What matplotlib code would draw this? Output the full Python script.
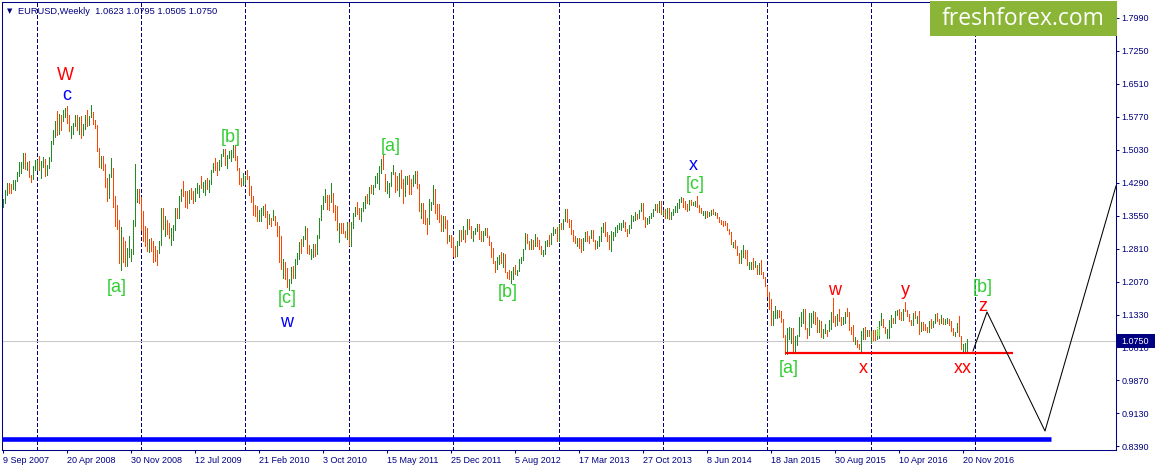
import numpy as np
import matplotlib.pyplot as plt
from matplotlib.patches import Rectangle

# Weekly EURUSD bars, Sep 2007 .. Dec 2016 (one value per week)
highs = [
    # 2007
    1.393, 1.414, 1.428, 1.428, 1.426, 1.435, 1.436, 1.453, 1.475, 1.475, 1.497, 1.497, 1.475, 1.478, 1.446, 1.468, 1.480,
    # 2008
    1.481, 1.489, 1.478, 1.487, 1.483, 1.470, 1.488, 1.524, 1.547, 1.568, 1.590, 1.584, 1.581,
    1.592, 1.598, 1.602, 1.582, 1.556, 1.563, 1.582, 1.582, 1.577, 1.579, 1.561, 1.581, 1.592,
    1.580, 1.604, 1.589, 1.570, 1.558, 1.507, 1.490, 1.490, 1.472, 1.440, 1.450, 1.486, 1.463,
    1.400, 1.380, 1.345, 1.330, 1.308, 1.298, 1.284, 1.310, 1.282, 1.346, 1.472, 1.416, 1.415,
    # 2009
    1.397, 1.367, 1.333, 1.327, 1.303, 1.306, 1.299, 1.288, 1.278, 1.298, 1.374, 1.374, 1.356,
    1.346, 1.340, 1.329, 1.335, 1.374, 1.374, 1.400, 1.416, 1.434, 1.411, 1.411, 1.414, 1.418,
    1.411, 1.418, 1.429, 1.425, 1.445, 1.431, 1.435, 1.440, 1.435, 1.458, 1.474, 1.484, 1.475,
    1.480, 1.494, 1.506, 1.506, 1.492, 1.501, 1.503, 1.514, 1.514, 1.489, 1.463, 1.441, 1.451,
    # 2010
    1.445, 1.458, 1.445, 1.422, 1.400, 1.379, 1.378, 1.369, 1.374, 1.378, 1.382, 1.366, 1.359,
    1.351, 1.369, 1.355, 1.341, 1.333, 1.310, 1.258, 1.252, 1.239, 1.214, 1.240, 1.242, 1.259,
    1.271, 1.297, 1.303, 1.310, 1.333, 1.329, 1.290, 1.281, 1.293, 1.292, 1.313, 1.350, 1.380,
    1.399, 1.416, 1.403, 1.402, 1.428, 1.406, 1.379, 1.378, 1.340, 1.339, 1.340, 1.322, 1.341,
    # 2011
    1.341, 1.341, 1.362, 1.376, 1.386, 1.373, 1.374, 1.386, 1.400, 1.404, 1.419, 1.425, 1.425,
    1.444, 1.452, 1.466, 1.483, 1.494, 1.449, 1.433, 1.430, 1.454, 1.470, 1.453, 1.445, 1.452,
    1.458, 1.437, 1.445, 1.444, 1.446, 1.439, 1.448, 1.455, 1.455, 1.426, 1.385, 1.384, 1.369,
    1.350, 1.392, 1.387, 1.425, 1.416, 1.382, 1.381, 1.357, 1.355, 1.355, 1.345, 1.313, 1.312,
    # 2012
    1.308, 1.287, 1.300, 1.324, 1.324, 1.332, 1.324, 1.348, 1.349, 1.333, 1.321, 1.329, 1.338,
    1.338, 1.321, 1.322, 1.327, 1.328, 1.311, 1.297, 1.283, 1.255, 1.263, 1.267, 1.274, 1.271,
    1.269, 1.230, 1.233, 1.232, 1.240, 1.244, 1.234, 1.259, 1.264, 1.281, 1.317, 1.315, 1.300,
    1.304, 1.302, 1.314, 1.308, 1.301, 1.287, 1.278, 1.299, 1.301, 1.313, 1.316, 1.331, 1.326, 1.330,
    # 2013
    1.338, 1.340, 1.348, 1.371, 1.371, 1.348, 1.345, 1.324, 1.311, 1.306, 1.305, 1.304, 1.306,
    1.320, 1.321, 1.310, 1.324, 1.324, 1.302, 1.300, 1.310, 1.331, 1.339, 1.342, 1.318, 1.312,
    1.321, 1.318, 1.330, 1.335, 1.340, 1.339, 1.345, 1.342, 1.325, 1.334, 1.357, 1.356, 1.363,
    1.360, 1.369, 1.383, 1.383, 1.353, 1.350, 1.355, 1.362, 1.371, 1.381, 1.381, 1.389, 1.389,
    # 2014
    1.369, 1.370, 1.374, 1.374, 1.363, 1.371, 1.377, 1.383, 1.392, 1.397, 1.395, 1.388, 1.381,
    1.390, 1.390, 1.386, 1.388, 1.399, 1.379, 1.373, 1.367, 1.367, 1.367, 1.364, 1.368, 1.370,
    1.365, 1.361, 1.353, 1.345, 1.344, 1.344, 1.340, 1.325, 1.318, 1.296, 1.301, 1.288, 1.271,
    1.279, 1.289, 1.278, 1.279, 1.252, 1.251, 1.260, 1.253, 1.246, 1.250, 1.257, 1.229, 1.219,
    # 2015
    1.197, 1.185, 1.168, 1.142, 1.153, 1.145, 1.145, 1.143, 1.123, 1.088, 1.104, 1.105, 1.104,
    1.103, 1.085, 1.088, 1.129, 1.139, 1.146, 1.147, 1.104, 1.138, 1.138, 1.143, 1.140, 1.128,
    1.121, 1.119, 1.101, 1.113, 1.100, 1.121, 1.139, 1.171, 1.130, 1.136, 1.146, 1.129, 1.128,
    1.139, 1.149, 1.139, 1.106, 1.110, 1.083, 1.077, 1.069, 1.098, 1.104, 1.106, 1.099, 1.099,
    # 2016
    1.096, 1.099, 1.099, 1.096, 1.120, 1.138, 1.125, 1.107, 1.102, 1.122, 1.134, 1.127, 1.142,
    1.145, 1.146, 1.139, 1.146, 1.162, 1.145, 1.135, 1.122, 1.137, 1.142, 1.130, 1.142, 1.118,
    1.118, 1.112, 1.107, 1.120, 1.123, 1.120, 1.136, 1.137, 1.124, 1.133, 1.127, 1.124, 1.126,
    1.124, 1.120, 1.103, 1.095, 1.114, 1.130, 1.086, 1.069, 1.071, 1.0795,
]

lows = [
    # 2007
    1.375, 1.385, 1.401, 1.406, 1.406, 1.416, 1.413, 1.433, 1.445, 1.452, 1.463, 1.460, 1.457, 1.443, 1.432, 1.438, 1.458,
    # 2008
    1.459, 1.459, 1.440, 1.464, 1.445, 1.448, 1.462, 1.479, 1.516, 1.533, 1.536, 1.538, 1.548,
    1.568, 1.576, 1.564, 1.545, 1.529, 1.538, 1.556, 1.548, 1.539, 1.530, 1.537, 1.551, 1.556,
    1.560, 1.578, 1.562, 1.552, 1.500, 1.465, 1.463, 1.458, 1.419, 1.388, 1.396, 1.442, 1.376,
    1.333, 1.326, 1.250, 1.233, 1.252, 1.242, 1.242, 1.264, 1.254, 1.270, 1.332, 1.387, 1.384,
    # 2009
    1.324, 1.298, 1.288, 1.276, 1.274, 1.276, 1.251, 1.253, 1.246, 1.272, 1.290, 1.325, 1.311,
    1.315, 1.306, 1.289, 1.302, 1.324, 1.350, 1.351, 1.388, 1.399, 1.376, 1.374, 1.385, 1.393,
    1.383, 1.389, 1.407, 1.398, 1.417, 1.408, 1.402, 1.416, 1.408, 1.427, 1.454, 1.459, 1.448,
    1.458, 1.468, 1.489, 1.469, 1.463, 1.484, 1.478, 1.487, 1.481, 1.458, 1.427, 1.422, 1.425,
    # 2010
    1.426, 1.438, 1.403, 1.386, 1.358, 1.356, 1.344, 1.344, 1.343, 1.358, 1.353, 1.327, 1.338,
    1.332, 1.345, 1.334, 1.311, 1.252, 1.235, 1.215, 1.214, 1.195, 1.188, 1.205, 1.215, 1.215,
    1.248, 1.258, 1.272, 1.287, 1.304, 1.273, 1.270, 1.259, 1.264, 1.266, 1.269, 1.305, 1.345,
    1.370, 1.387, 1.370, 1.368, 1.386, 1.364, 1.345, 1.323, 1.297, 1.317, 1.317, 1.307, 1.304,
    # 2011
    1.291, 1.287, 1.329, 1.356, 1.359, 1.348, 1.344, 1.366, 1.372, 1.383, 1.382, 1.407, 1.404,
    1.419, 1.430, 1.416, 1.452, 1.460, 1.411, 1.406, 1.397, 1.422, 1.450, 1.408, 1.413, 1.400,
    1.418, 1.384, 1.400, 1.427, 1.405, 1.405, 1.422, 1.430, 1.418, 1.366, 1.350, 1.339, 1.336,
    1.315, 1.337, 1.368, 1.382, 1.361, 1.349, 1.342, 1.321, 1.322, 1.329, 1.295, 1.299, 1.286,
    # 2012
    1.266, 1.262, 1.265, 1.291, 1.298, 1.303, 1.297, 1.315, 1.326, 1.305, 1.300, 1.314, 1.321,
    1.304, 1.299, 1.300, 1.312, 1.308, 1.291, 1.264, 1.250, 1.229, 1.236, 1.248, 1.249, 1.240,
    1.229, 1.216, 1.214, 1.204, 1.213, 1.224, 1.223, 1.231, 1.249, 1.256, 1.280, 1.294, 1.280,
    1.280, 1.280, 1.287, 1.288, 1.280, 1.269, 1.266, 1.270, 1.288, 1.288, 1.292, 1.312, 1.316, 1.300,
    # 2013
    1.299, 1.326, 1.326, 1.344, 1.341, 1.331, 1.314, 1.299, 1.295, 1.288, 1.284, 1.275, 1.279,
    1.300, 1.299, 1.295, 1.306, 1.299, 1.280, 1.284, 1.287, 1.298, 1.319, 1.311, 1.299, 1.281,
    1.276, 1.301, 1.309, 1.318, 1.325, 1.323, 1.331, 1.321, 1.310, 1.316, 1.328, 1.344, 1.345,
    1.348, 1.350, 1.366, 1.348, 1.330, 1.337, 1.340, 1.350, 1.354, 1.369, 1.363, 1.365, 1.359,
    # 2014
    1.357, 1.351, 1.351, 1.348, 1.348, 1.358, 1.364, 1.364, 1.373, 1.386, 1.375, 1.370, 1.367,
    1.368, 1.380, 1.379, 1.378, 1.375, 1.365, 1.362, 1.358, 1.350, 1.352, 1.354, 1.358, 1.359,
    1.357, 1.351, 1.342, 1.336, 1.333, 1.335, 1.324, 1.314, 1.292, 1.286, 1.283, 1.268, 1.250,
    1.250, 1.262, 1.261, 1.244, 1.236, 1.236, 1.236, 1.241, 1.225, 1.224, 1.225, 1.216, 1.199,
    # 2015
    1.175, 1.146, 1.110, 1.110, 1.126, 1.126, 1.128, 1.118, 1.084, 1.046, 1.046, 1.080, 1.071,
    1.052, 1.051, 1.066, 1.085, 1.109, 1.114, 1.101, 1.082, 1.089, 1.107, 1.116, 1.113, 1.095,
    1.094, 1.083, 1.081, 1.093, 1.085, 1.096, 1.102, 1.118, 1.108, 1.111, 1.120, 1.110, 1.112,
    1.115, 1.131, 1.100, 1.090, 1.074, 1.068, 1.062, 1.056, 1.052, 1.080, 1.080, 1.085, 1.085,
    # 2016
    1.071, 1.078, 1.077, 1.080, 1.081, 1.111, 1.107, 1.092, 1.081, 1.082, 1.105, 1.114, 1.114,
    1.133, 1.124, 1.122, 1.121, 1.141, 1.131, 1.119, 1.110, 1.110, 1.126, 1.114, 1.091, 1.097,
    1.100, 1.099, 1.095, 1.095, 1.104, 1.105, 1.115, 1.119, 1.112, 1.115, 1.112, 1.113, 1.115,
    1.111, 1.096, 1.088, 1.086, 1.095, 1.085, 1.057, 1.052, 1.053, 1.0505,
]

closes = [
    # 2007
    1.388, 1.406, 1.426, 1.423, 1.418, 1.431, 1.435, 1.452, 1.465, 1.467, 1.481, 1.463, 1.465, 1.444, 1.439, 1.464, 1.475,
    # 2008
    1.477, 1.467, 1.468, 1.483, 1.450, 1.464, 1.482, 1.518, 1.536, 1.566, 1.544, 1.578, 1.576,
    1.581, 1.592, 1.569, 1.547, 1.550, 1.552, 1.577, 1.556, 1.577, 1.542, 1.559, 1.580, 1.561,
    1.580, 1.587, 1.570, 1.555, 1.500, 1.468, 1.476, 1.467, 1.426, 1.421, 1.448, 1.457, 1.380,
    1.363, 1.341, 1.265, 1.273, 1.272, 1.257, 1.259, 1.270, 1.271, 1.334, 1.387, 1.406, 1.397,
    # 2009
    1.342, 1.322, 1.301, 1.280, 1.297, 1.288, 1.284, 1.268, 1.266, 1.294, 1.360, 1.327, 1.346,
    1.322, 1.305, 1.325, 1.326, 1.368, 1.352, 1.399, 1.415, 1.404, 1.403, 1.394, 1.410, 1.399,
    1.395, 1.416, 1.420, 1.424, 1.418, 1.420, 1.433, 1.430, 1.431, 1.457, 1.472, 1.468, 1.458,
    1.472, 1.494, 1.501, 1.472, 1.485, 1.490, 1.493, 1.500, 1.485, 1.462, 1.434, 1.433, 1.433,
    # 2010
    1.441, 1.439, 1.414, 1.386, 1.363, 1.362, 1.361, 1.362, 1.363, 1.377, 1.353, 1.343, 1.358,
    1.342, 1.350, 1.338, 1.328, 1.275, 1.235, 1.257, 1.227, 1.197, 1.211, 1.237, 1.224, 1.256,
    1.264, 1.294, 1.290, 1.306, 1.328, 1.276, 1.271, 1.274, 1.290, 1.274, 1.305, 1.349, 1.379,
    1.386, 1.398, 1.396, 1.394, 1.403, 1.369, 1.368, 1.324, 1.340, 1.329, 1.318, 1.311, 1.336,
    # 2011
    1.291, 1.337, 1.361, 1.362, 1.359, 1.356, 1.370, 1.375, 1.399, 1.391, 1.418, 1.409, 1.423,
    1.442, 1.443, 1.456, 1.481, 1.460, 1.412, 1.414, 1.426, 1.451, 1.457, 1.428, 1.421, 1.450,
    1.424, 1.415, 1.437, 1.439, 1.426, 1.424, 1.439, 1.449, 1.423, 1.366, 1.380, 1.350, 1.339,
    1.337, 1.386, 1.388, 1.416, 1.377, 1.375, 1.352, 1.324, 1.345, 1.338, 1.304, 1.305, 1.294,
    # 2012
    1.272, 1.268, 1.294, 1.321, 1.316, 1.319, 1.316, 1.345, 1.336, 1.313, 1.319, 1.328, 1.334,
    1.310, 1.308, 1.321, 1.323, 1.308, 1.293, 1.278, 1.252, 1.237, 1.262, 1.263, 1.252, 1.266,
    1.229, 1.222, 1.215, 1.231, 1.239, 1.229, 1.233, 1.252, 1.257, 1.281, 1.312, 1.297, 1.286,
    1.304, 1.295, 1.296, 1.294, 1.281, 1.271, 1.274, 1.298, 1.299, 1.292, 1.316, 1.319, 1.322, 1.307,
    # 2013
    1.336, 1.332, 1.346, 1.363, 1.337, 1.336, 1.319, 1.302, 1.300, 1.308, 1.299, 1.282, 1.300,
    1.311, 1.304, 1.303, 1.311, 1.299, 1.284, 1.293, 1.299, 1.323, 1.335, 1.312, 1.301, 1.283,
    1.307, 1.314, 1.328, 1.328, 1.334, 1.334, 1.338, 1.322, 1.317, 1.330, 1.352, 1.352, 1.356,
    1.355, 1.368, 1.380, 1.349, 1.336, 1.350, 1.356, 1.360, 1.371, 1.374, 1.367, 1.380, 1.359,
    # 2014
    1.367, 1.354, 1.368, 1.349, 1.363, 1.370, 1.374, 1.380, 1.391, 1.391, 1.379, 1.375, 1.370,
    1.389, 1.381, 1.383, 1.387, 1.376, 1.370, 1.363, 1.363, 1.364, 1.354, 1.360, 1.365, 1.360,
    1.361, 1.352, 1.343, 1.342, 1.341, 1.340, 1.324, 1.313, 1.295, 1.296, 1.283, 1.269, 1.252,
    1.276, 1.276, 1.267, 1.245, 1.245, 1.252, 1.239, 1.245, 1.229, 1.246, 1.226, 1.219, 1.200,
    # 2015
    1.184, 1.157, 1.120, 1.129, 1.132, 1.139, 1.138, 1.120, 1.085, 1.050, 1.082, 1.088, 1.097,
    1.060, 1.080, 1.087, 1.120, 1.120, 1.145, 1.101, 1.095, 1.111, 1.126, 1.135, 1.116, 1.110,
    1.116, 1.083, 1.098, 1.098, 1.097, 1.111, 1.138, 1.118, 1.115, 1.133, 1.130, 1.120, 1.121,
    1.136, 1.135, 1.102, 1.100, 1.074, 1.077, 1.065, 1.059, 1.088, 1.099, 1.087, 1.097, 1.086,
    # 2016
    1.093, 1.091, 1.080, 1.083, 1.116, 1.125, 1.113, 1.093, 1.100, 1.115, 1.127, 1.117, 1.139,
    1.140, 1.128, 1.123, 1.145, 1.140, 1.131, 1.121, 1.111, 1.136, 1.125, 1.128, 1.112, 1.113,
    1.105, 1.104, 1.098, 1.117, 1.109, 1.116, 1.133, 1.120, 1.115, 1.123, 1.115, 1.123, 1.124,
    1.120, 1.097, 1.088, 1.097, 1.114, 1.086, 1.058, 1.059, 1.062, 1.075,
]
first_open = 1.376

x_labels = ["9 Sep 2007", "20 Apr 2008", "30 Nov 2008", "12 Jul 2009", "21 Feb 2010",
            "3 Oct 2010", "15 May 2011", "25 Dec 2011", "5 Aug 2012", "17 Mar 2013",
            "27 Oct 2013", "8 Jun 2014", "18 Jan 2015", "30 Aug 2015", "10 Apr 2016",
            "20 Nov 2016"]
y_labels = ["0.8390", "0.9130", "0.9870", "1.0610", "1.1330", "1.2070", "1.2810",
            "1.3550", "1.4290", "1.5030", "1.5770", "1.6510", "1.7250", "1.7990"]
year_starts = [17, 69, 121, 173, 225, 278, 330, 382, 434, 486]

# wave labels: text, bar index, price, colour
waves = [
    ("W", 31, 1.671, "#ff0000"), ("c", 32, 1.626, "#0000ff"),
    ("[a]", 57, 1.1935, "#32cd32"), ("[b]", 114, 1.532, "#32cd32"),
    ("[c]", 142, 1.171, "#32cd32"), ("w", 142, 1.117, "#0000ff"),
    ("[a]", 194, 1.510, "#32cd32"), ("[b]", 252.5, 1.1845, "#32cd32"),
    ("x", 345, 1.469, "#0000ff"), ("[c]", 346, 1.4245, "#32cd32"),
    ("[a]", 393, 1.014, "#32cd32"), ("w", 416, 1.189, "#ff0000"),
    ("x", 430, 1.014, "#ff0000"), ("y", 451, 1.189, "#ff0000"),
    ("xx", 480, 1.012, "#ff0000"), ("[b]", 490, 1.1935, "#32cd32"),
    ("z", 490, 1.153, "#ff0000"),
]
# forecast path drawn on the chart
path_x = [485, 492, 521, 556.5]
path_y = [1.0522, 1.1397, 0.8728, 1.4222]
support = 1.0477
base_line = 0.8548
last_price = 1.0750

plt.rcParams['font.family'] = ['Liberation Sans', 'DejaVu Sans']
navy = '#000080'
W, H = 1156, 471

fig = plt.figure(figsize=(W / 100, H / 100), dpi=100)
ax = fig.add_axes([2.3 / W, 1 - 450 / H, (1116 - 2.3) / W, (450 - 2.3) / H])

n = len(highs)
x = np.arange(n)
opens = [first_open] + closes[:-1]
cols = ['#228b22' if c >= o else '#ff4500' for o, c in zip(opens, closes)]

for xs in year_starts:
    ax.axvline(xs, color=navy, lw=0.6, ls=(0, (4.2, 3.0)), antialiased=False, zorder=1)
ax.axhline(last_price, color='#c8c8c8', lw=0.75, zorder=1)
ax.vlines(x, lows, highs, colors=cols, lw=0.55, antialiased=False, zorder=2)
ax.plot([-0.4, 524], [base_line, base_line], color='#0000ff', lw=3.3, solid_capstyle='butt', zorder=3)
ax.plot([391, 505], [support, support], color='#ff0000', lw=1.6, solid_capstyle='butt', zorder=3)
ax.plot(path_x, path_y, color='black', lw=0.75, zorder=3)

for txt, bx, py, c in waves:
    ax.text(bx, py, txt, color=c, fontsize=13, ha='center', va='center', zorder=4)
ax.text(437.5, 1.0926, "ii", color='#66dd33', fontsize=9, ha='center', va='center', zorder=4)

ax.set_xlim(-0.35, 556.5)
ax.set_ylim(0.8302, 1.8342)

ax.yaxis.tick_right()
ax.set_yticks([float(s) for s in y_labels])
ax.set_yticklabels(y_labels)
ax.set_xticks(np.arange(len(x_labels)) * 32)
ax.set_xticklabels(x_labels, ha='left')
ax.tick_params(axis='y', length=2.5, width=0.75, color=navy, labelcolor=navy, labelsize=6.5, pad=1.5)
ax.tick_params(axis='x', length=2.5, width=0.75, color=navy, labelcolor=navy, labelsize=6.5, pad=1.5)
for sp in ax.spines.values():
    sp.set_color(navy)
    sp.set_linewidth(0.75)

# header
fig.text(7 / W, 1 - 11 / H, "\u25bc", family='DejaVu Sans', fontsize=5, color=navy, va='center')
fig.text(18 / W, 1 - 11 / H, "EURUSD,Weekly  1.0623 1.0795 1.0505 1.0750",
         fontsize=6.7, color=navy, va='center')

# logo
fig.add_artist(Rectangle((930 / W, 1 - 36 / H), 187 / W, 35 / H, transform=fig.transFigure,
                         facecolor='#8ab536', edgecolor='none', zorder=5))
fig.text(1023 / W, 1 - 19 / H, "freshforex.com", family='Open Sans', fontsize=16.5,
         color='white', ha='center', va='center', zorder=6)

# last price marker
fig.add_artist(Rectangle((1117 / W, 1 - 348 / H), 38 / W, 14 / H, transform=fig.transFigure,
                         facecolor=navy, edgecolor='none', zorder=5))
fig.text(1121 / W, 1 - 341 / H, "1.0750", fontsize=6.5, color='white', va='center', zorder=6)

fig.savefig('out.png', dpi=100, facecolor='white')
